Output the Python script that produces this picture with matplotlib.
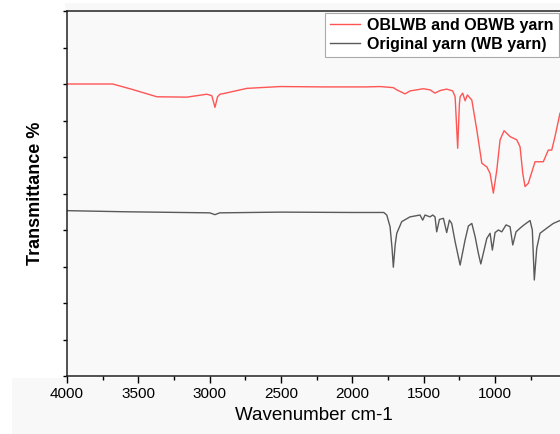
import matplotlib
matplotlib.use("Agg")
import matplotlib.pyplot as plt
from matplotlib.ticker import MultipleLocator, NullFormatter
from matplotlib.patches import Rectangle

# spectra (wavenumber, transmittance %)
wn_treated = [4000, 3680, 3550, 3370, 3160, 3020, 2985, 2963, 2945, 2928, 2900, 2740,
              2507, 2200, 1900, 1806, 1713, 1689, 1631, 1596, 1503, 1456, 1421, 1386,
              1339, 1297, 1280, 1262, 1250, 1245, 1227, 1210, 1194, 1163, 1128, 1093,
              1058, 1035, 1012, 988, 965, 937, 895, 848, 825, 806, 790, 767, 720, 662,
              627, 603, 580, 545]
t_treated = [80.0, 80.0, 78.6, 76.5, 76.4, 77.2, 76.8, 73.6, 76.5, 77.2, 77.4, 78.8,
             79.3, 79.2, 79.2, 79.3, 79.0, 78.4, 77.3, 78.1, 78.7, 78.4, 77.5, 78.2,
             78.6, 78.1, 76.5, 62.4, 74.5, 76.5, 77.5, 75.4, 77.0, 75.6, 67.4, 58.3,
             57.3, 55.5, 50.1, 56.4, 64.7, 67.2, 65.6, 64.7, 62.8, 55.5, 51.9, 52.8,
             58.7, 58.7, 61.9, 61.9, 65.6, 72.0]

wn_orig = [4000, 3600, 3200, 3000, 2963, 2930, 2500, 2000, 1780, 1759, 1736, 1722,
           1713, 1700, 1689, 1654, 1596, 1526, 1507, 1491, 1456, 1437, 1421, 1409,
           1390, 1362, 1339, 1320, 1304, 1280, 1245, 1210, 1187, 1163, 1140, 1117,
           1100, 1077, 1058, 1035, 1019, 1000, 977, 953, 923, 895, 876, 853, 825,
           797, 755, 739, 725, 708, 685, 638, 592, 545]
t_orig = [45.3, 45.0, 44.8, 44.7, 44.2, 44.7, 44.9, 44.8, 44.8, 44.1, 40.9, 35.0,
          29.8, 36.0, 39.1, 42.3, 43.6, 44.1, 42.7, 44.1, 43.6, 44.1, 43.6, 39.5,
          42.9, 43.2, 39.3, 42.7, 41.8, 36.8, 30.4, 37.3, 41.1, 41.8, 38.2, 33.6,
          30.7, 34.5, 37.7, 39.1, 34.5, 39.3, 40.0, 39.5, 41.4, 40.9, 35.9, 39.5,
          40.5, 41.4, 42.6, 40.0, 26.3, 35.0, 39.1, 40.5, 41.8, 42.6]

labels = ["OBLWB and OBWB yarn", "Original yarn (WB yarn)"]

plt.rcParams['font.family'] = ['Liberation Sans', 'DejaVu Sans']

fig = plt.figure(figsize=(5.6, 4.34), dpi=100)
fig.patch.set_facecolor('white')
# light grey screenshot strips around the plot
fig.patches.append(Rectangle((12/560, 0), 1, 56/434, transform=fig.transFigure,
                             facecolor='#f8f8f8', edgecolor='none', zorder=-5))
fig.patches.append(Rectangle((65/560, 423/434), 1, 8/434, transform=fig.transFigure,
                             facecolor='#f8f8f8', edgecolor='none', zorder=-5))

ax = fig.add_axes([67/560, 58/434, 493/560, 365/434])
ax.set_facecolor('#f9f9f9')

ax.plot(wn_treated, t_treated, color='#ff5555', lw=1.0, label=labels[0])
ax.plot(wn_orig, t_orig, color='#5a5a5a', lw=1.0, label=labels[1])

ax.set_xlim(4000, 545)
ax.set_ylim(0, 100)

ax.xaxis.set_major_locator(MultipleLocator(500))
ax.xaxis.set_minor_locator(MultipleLocator(250))
ax.yaxis.set_major_locator(MultipleLocator(10))
ax.yaxis.set_major_formatter(NullFormatter())
ax.tick_params(axis='x', which='major', direction='out', length=5, width=1, labelsize=11, pad=3)
ax.tick_params(axis='x', which='minor', direction='out', length=3, width=1)
ax.tick_params(axis='y', which='major', direction='out', length=3, width=1)

for s in ['left', 'bottom', 'top']:
    ax.spines[s].set_linewidth(1.1)
    ax.spines[s].set_color('#222222')
ax.spines['right'].set_visible(False)

ax.set_xlabel("Wavenumber cm-1", fontsize=13.5, labelpad=4)
ax.set_ylabel("Transmittance %", fontsize=13, fontweight='bold', labelpad=10)

leg = ax.legend(loc='upper left', bbox_to_anchor=((325-67)/493, (376-13)/365),
                borderaxespad=0, fancybox=False, framealpha=1, facecolor='white',
                edgecolor='#aaaaaa', prop={'weight': 'bold', 'size': 11.5},
                handlelength=1.9, handletextpad=0.45, labelspacing=0.25,
                borderpad=0.3)
leg.get_frame().set_linewidth(0.8)

fig.savefig("out.png", dpi=100)
